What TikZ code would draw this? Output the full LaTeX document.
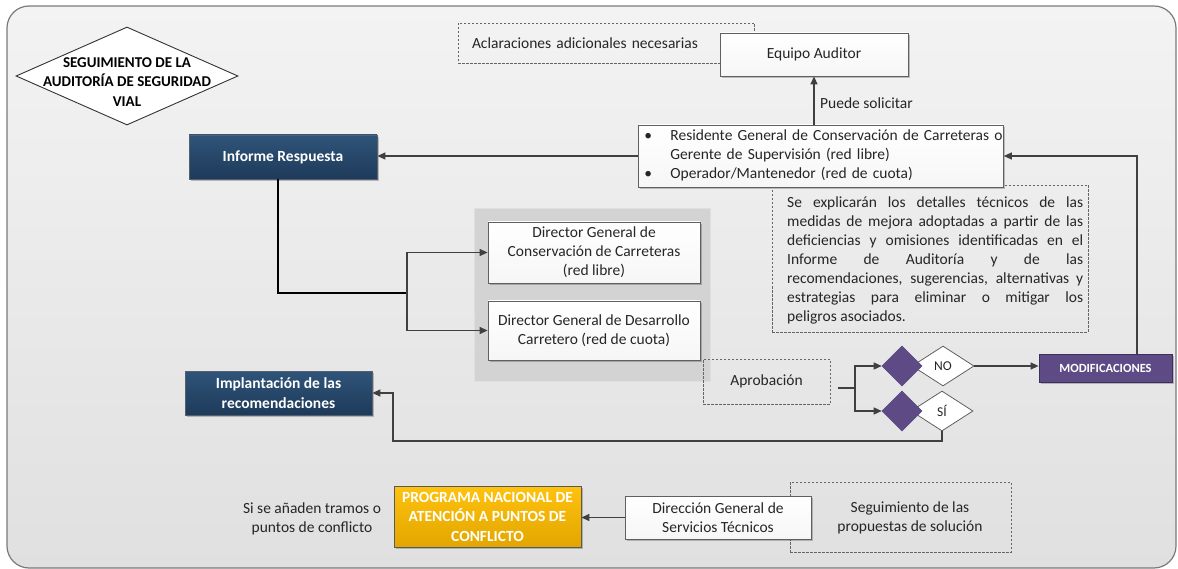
\documentclass[tikz,border=0pt]{standalone}
\usepackage{fontspec}
\setmainfont{Carlito}
\usetikzlibrary{arrows.meta,shapes.geometric,shadows,calc}

\definecolor{linegray}{HTML}{404040}
\definecolor{framegray}{HTML}{7A7A7A}
\definecolor{frameTop}{HTML}{F3F3F3}
\definecolor{frameBottom}{HTML}{E0E0E0}
\definecolor{navyA}{HTML}{2F5479}
\definecolor{navyB}{HTML}{1E3A5A}
\definecolor{purp}{HTML}{5E4B86}
\definecolor{purpdark}{HTML}{3E2F5E}
\definecolor{goldA}{HTML}{FFC20E}
\definecolor{goldB}{HTML}{E2A600}
\definecolor{txt}{HTML}{262626}
\definecolor{groupgray}{HTML}{D3D3D3}
\definecolor{dashgray}{HTML}{666666}

\tikzset{
  txt/.style={font=\fontsize{15.5}{19}\selectfont, text=txt},
  boldtxt/.style={font=\bfseries\fontsize{15.5}{19.5}\selectfont},
  softshadow/.style={drop shadow={shadow xshift=1.6pt, shadow yshift=-1.6pt, opacity=0.22, fill=black}},
  wbox/.style={txt, rectangle, draw=gray!75!black, line width=0.8pt,
    top color=white, bottom color=gray!7, softshadow, align=center, inner sep=0pt},
  navybox/.style={boldtxt, text=white, rectangle, draw=gray!55!navyB, line width=0.8pt,
    top color=navyA, bottom color=navyB, softshadow, align=center, inner sep=0pt},
  goldbox/.style={boldtxt, text=white, rectangle, draw=gray!70!black, line width=0.8pt,
    top color=goldA, bottom color=goldB, softshadow, align=center, inner sep=0pt},
  purpbox/.style={font=\bfseries\fontsize{12.5}{15}\selectfont, text=white, rectangle,
    draw=purpdark, line width=0.8pt, fill=purp, softshadow, align=center, inner sep=0pt},
  dashbox/.style={rectangle, draw=dashgray, line width=0.7pt, dash pattern=on 2.5pt off 1.5pt, inner sep=0pt},
  whitediamond/.style={diamond, draw=gray!75!black, line width=0.8pt, fill=white, inner sep=0pt},
  purpdiamond/.style={diamond, fill=purp, draw=purp, line width=0.6pt, inner sep=0pt,
    minimum width=40pt, minimum height=40pt},
  conn/.style={draw=linegray, line width=1.3pt, -{Triangle[length=8pt,width=7pt]}},
  plainline/.style={draw=black, line width=1.4pt},
}

\begin{document}
\begin{tikzpicture}[x=1pt,y=-1pt]
  \useasboundingbox (0,0) rectangle (1178,569);

  % outer rounded frame
  \draw[draw=framegray, line width=1.2pt, top color=frameTop, bottom color=frameBottom, rounded corners=22pt]
    (7,6) rectangle (1176,568);

  % title diamond
  \node[diamond, draw=gray!40!black, line width=0.9pt, fill=white, inner sep=0pt,
        minimum width=222pt, minimum height=98pt] (title) at (127,76) {};
  \node[text=black, align=center, font=\bfseries\fontsize{15}{19.5}\selectfont] (titleT) at (127,82)
    {SEGUIMIENTO DE LA\\AUDITORÍA DE SEGURIDAD\\VIAL};

  % audit team and its note
  \node[dashbox, txt, minimum height=40pt, text width=268pt, inner xsep=14pt, align=left] (acl) at (606,43)
    {Aclaraciones adicionales necesarias};
  \node[wbox, minimum width=188pt, minimum height=43pt] (equipo) at (814,54.5) {Equipo Auditor};

  % explanation note (behind the responsible box)
  \node[dashbox, minimum width=316pt, minimum height=147pt] (expl) at (930,258.5) {};
  \node[txt, anchor=north west, inner sep=0pt, align=left] (explT) at (787,197)
    {\makebox[296pt][s]{Se explicarán los detalles técnicos de las}\\
     \makebox[296pt][s]{medidas de mejora adoptadas a partir de las}\\
     \makebox[296pt][s]{deficiencias y omisiones identificadas en el}\\
     \makebox[296pt][s]{Informe de Auditoría y de las}\\
     \makebox[296pt][s]{recomendaciones, sugerencias, alternativas y}\\
     \makebox[296pt][s]{estrategias para eliminar o mitigar los}\\
     peligros asociados.};

  % responsible parties
  \node[wbox, anchor=west, text width=353pt, minimum height=62pt, inner xsep=6pt, align=left] (res) at (638,156)
    {\begin{tabular}{@{}p{26pt}@{}l@{}}
      \textbullet & Residente General de Conservación de Carreteras o\\
                  & Gerente de Supervisión (red libre)\\
      \textbullet & Operador/Mantenedor (red de cuota)
     \end{tabular}};

  \node[txt, anchor=west, inner sep=0pt] (puede) at (820,103) {Puede solicitar};

  % response report
  \node[navybox, minimum width=188pt, minimum height=44pt] (inf) at (283,157) {Informe Respuesta};

  % directors group
  \node[rectangle, fill=groupgray, draw=gray!25, line width=0.4pt, minimum width=236pt, minimum height=173pt,
        inner sep=0pt] (grp) at (592,294.5) {};
  \node[wbox, minimum width=212pt, minimum height=61pt] (dir1) at (594,252.5)
    {Director General de\\Conservación de Carreteras\\(red libre)};
  \node[wbox, minimum width=212pt, minimum height=59pt] (dir2) at (594,330.5)
    {Director General de Desarrollo\\Carretero (red de cuota)};

  % implementation
  \node[navybox, minimum width=187pt, minimum height=44pt] (impl) at (278.5,393)
    {Implantación de las\\recomendaciones};

  % approval decision
  \node[dashbox, txt, minimum width=127pt, minimum height=45pt] (apro) at (766.5,381.5) {Aprobación};
  \node[whitediamond, minimum width=62pt, minimum height=40pt] (noW) at (943,366) {};
  \node[purpdiamond] (noP) at (902,366) {};
  \node[txt, font=\fontsize{13.5}{16}\selectfont] (noT) at (noW.center) {NO};
  \node[whitediamond, minimum width=62pt, minimum height=40pt] (siW) at (942,411) {};
  \node[purpdiamond] (siP) at (902,411) {};
  \node[txt, font=\fontsize{13.5}{16}\selectfont] (siT) at (siW.center) {SÍ};

  \node[purpbox, minimum width=133pt, minimum height=28pt] (mod) at (1105.5,368) {MODIFICACIONES};

  % national programme
  \node[txt, align=center, inner sep=0pt] (note) at (312,519) {Si se añaden tramos o\\puntos de conflicto};
  \node[goldbox, minimum width=187pt, minimum height=61pt] (prog) at (487.5,516.5)
    {PROGRAMA NACIONAL DE\\ATENCIÓN A PUNTOS DE\\CONFLICTO};
  \node[dashbox, minimum width=221pt, minimum height=70pt] (segd) at (900.5,517) {};
  \node[txt, align=center, inner sep=0pt] (segT) at (910,518) {Seguimiento de las\\propuestas de solución};
  \node[wbox, minimum width=186pt, minimum height=43pt] (dgst) at (718,517.5)
    {Dirección General de\\Servicios Técnicos};

  % connector anchor points
  \coordinate (infFoot) at (278,179);
  \coordinate (dirSplit) at (407,293);
  \coordinate (aproOut) at (838,388);
  \coordinate (aproSplit) at (855,388);
  \coordinate (loopCorner) at (393,441);
  \coordinate (modRise) at (1137,354);

  % connectors
  \draw[conn] (equipo.south |- res.north) -- (equipo.south);
  \draw[conn] (res.west) -- (res.west -| inf.east);
  \draw[plainline] (infFoot) |- (dirSplit);
  \draw[conn] (dirSplit) |- (dir1.west);
  \draw[conn] (dirSplit) |- (dir2.west);
  \draw[draw=linegray, line width=1.3pt] (aproOut) -- (aproSplit);
  \draw[conn] (aproSplit) |- (noP.west);
  \draw[conn] (aproSplit) |- (siP.west);
  \draw[conn] (noW.east) -- (noW.east -| mod.west);
  \draw[conn] (modRise) |- (res.east);
  \draw[conn] (siW.south) |- (loopCorner) |- (impl.east);
  \draw[conn] (dgst.west) -- (dgst.west -| prog.east);
\end{tikzpicture}
\end{document}
